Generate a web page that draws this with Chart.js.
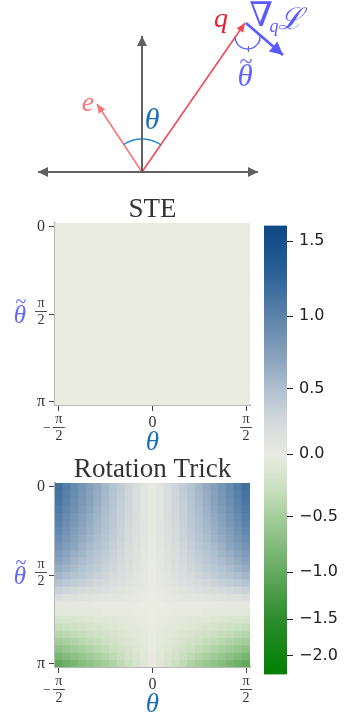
<!DOCTYPE html>
<html>
<head>
<meta charset="utf-8">
<script src="https://cdn.jsdelivr.net/npm/chart.js@4.4.0/dist/chart.umd.min.js"></script>
<style>
  html, body { margin: 0; padding: 0; background: #fff; }
  #wrap { position: relative; width: 345px; height: 714px; overflow: hidden; }
  canvas { position: absolute; }
</style>
</head>
<body>
<div id="wrap">
  <canvas id="diagram" width="345" height="190" style="left:0;top:0;width:345px;height:190px"></canvas>
  <canvas id="ste" width="262" height="268" style="left:0;top:190px;width:262px;height:268px"></canvas>
  <canvas id="rot" width="262" height="264" style="left:0;top:450px;width:262px;height:264px"></canvas>
  <canvas id="cbar" width="95" height="480" style="left:250px;top:210px;width:95px;height:480px"></canvas>
</div>
<script>
// heatmap axes (degrees)
const thetaCols = [-90, -82.5, -75, -67.5, -60, -52.5, -45, -37.5, -30, -22.5, -15, -7.5, 0,
  7.5, 15, 22.5, 30, 37.5, 45, 52.5, 60, 67.5, 75, 82.5, 90];
const thetaTildeRows = [0, 7.5, 15, 22.5, 30, 37.5, 45, 52.5, 60, 67.5, 75, 82.5, 90,
  97.5, 105, 112.5, 120, 127.5, 135, 142.5, 150, 157.5, 165, 172.5, 180];
const xTickDeg = [-90, 0, 90];
const xTickLabels = ['−π/2', '0', 'π/2'];
const yTickDeg = [0, 90, 180];
const yTickLabels = ['0', 'π/2', 'π'];

// colorbar ticks and the (non linear) norm
const cbTickValues = [1.5, 1.0, 0.5, 0.0, -0.5, -1.0, -1.5, -2.0];
const normValues = [1.6, 1.5, 1.0, 0.5, 0.0, -0.5, -1.0, -1.5, -2.0, -2.24];
const normFracs = [0, 0.035, 0.202, 0.364, 0.509, 0.649, 0.772, 0.877, 0.958, 1];

// STE: flat
const steGrid = [
  [0,0,0,0,0,0,0,0,0,0,0,0,0,0,0,0,0,0,0,0,0,0,0,0,0],
  [0,0,0,0,0,0,0,0,0,0,0,0,0,0,0,0,0,0,0,0,0,0,0,0,0],
  [0,0,0,0,0,0,0,0,0,0,0,0,0,0,0,0,0,0,0,0,0,0,0,0,0],
  [0,0,0,0,0,0,0,0,0,0,0,0,0,0,0,0,0,0,0,0,0,0,0,0,0],
  [0,0,0,0,0,0,0,0,0,0,0,0,0,0,0,0,0,0,0,0,0,0,0,0,0],
  [0,0,0,0,0,0,0,0,0,0,0,0,0,0,0,0,0,0,0,0,0,0,0,0,0],
  [0,0,0,0,0,0,0,0,0,0,0,0,0,0,0,0,0,0,0,0,0,0,0,0,0],
  [0,0,0,0,0,0,0,0,0,0,0,0,0,0,0,0,0,0,0,0,0,0,0,0,0],
  [0,0,0,0,0,0,0,0,0,0,0,0,0,0,0,0,0,0,0,0,0,0,0,0,0],
  [0,0,0,0,0,0,0,0,0,0,0,0,0,0,0,0,0,0,0,0,0,0,0,0,0],
  [0,0,0,0,0,0,0,0,0,0,0,0,0,0,0,0,0,0,0,0,0,0,0,0,0],
  [0,0,0,0,0,0,0,0,0,0,0,0,0,0,0,0,0,0,0,0,0,0,0,0,0],
  [0,0,0,0,0,0,0,0,0,0,0,0,0,0,0,0,0,0,0,0,0,0,0,0,0],
  [0,0,0,0,0,0,0,0,0,0,0,0,0,0,0,0,0,0,0,0,0,0,0,0,0],
  [0,0,0,0,0,0,0,0,0,0,0,0,0,0,0,0,0,0,0,0,0,0,0,0,0],
  [0,0,0,0,0,0,0,0,0,0,0,0,0,0,0,0,0,0,0,0,0,0,0,0,0],
  [0,0,0,0,0,0,0,0,0,0,0,0,0,0,0,0,0,0,0,0,0,0,0,0,0],
  [0,0,0,0,0,0,0,0,0,0,0,0,0,0,0,0,0,0,0,0,0,0,0,0,0],
  [0,0,0,0,0,0,0,0,0,0,0,0,0,0,0,0,0,0,0,0,0,0,0,0,0],
  [0,0,0,0,0,0,0,0,0,0,0,0,0,0,0,0,0,0,0,0,0,0,0,0,0],
  [0,0,0,0,0,0,0,0,0,0,0,0,0,0,0,0,0,0,0,0,0,0,0,0,0],
  [0,0,0,0,0,0,0,0,0,0,0,0,0,0,0,0,0,0,0,0,0,0,0,0,0],
  [0,0,0,0,0,0,0,0,0,0,0,0,0,0,0,0,0,0,0,0,0,0,0,0,0],
  [0,0,0,0,0,0,0,0,0,0,0,0,0,0,0,0,0,0,0,0,0,0,0,0,0],
  [0,0,0,0,0,0,0,0,0,0,0,0,0,0,0,0,0,0,0,0,0,0,0,0,0]
];

// Rotation trick: rows = theta tilde (0..pi), cols = theta (-pi/2..pi/2)
const rotGrid = [
  [1.15,1.04,.93,.84,.75,.66,.56,.47,.38,.29,.20,.10,.02,.10,.20,.29,.38,.47,.56,.66,.75,.84,.93,1.04,1.15],
  [1.13,1.02,.92,.82,.73,.64,.55,.46,.37,.28,.19,.10,.02,.10,.19,.28,.37,.46,.55,.64,.73,.82,.92,1.02,1.13],
  [1.10,.99,.89,.80,.72,.63,.54,.45,.36,.28,.19,.10,.02,.10,.19,.28,.36,.45,.54,.63,.72,.80,.89,.99,1.10],
  [1.07,.96,.87,.78,.70,.61,.52,.44,.35,.27,.18,.10,.02,.10,.18,.27,.35,.44,.52,.61,.70,.78,.87,.96,1.07],
  [1.03,.93,.83,.75,.67,.59,.50,.42,.34,.26,.18,.09,.02,.09,.18,.26,.34,.42,.50,.59,.67,.75,.83,.93,1.03],
  [.99,.89,.80,.72,.64,.56,.49,.41,.33,.25,.17,.09,.02,.09,.17,.25,.33,.41,.49,.56,.64,.72,.80,.89,.99],
  [.95,.86,.77,.69,.62,.54,.47,.39,.31,.24,.16,.09,.02,.09,.16,.24,.31,.39,.47,.54,.62,.69,.77,.86,.95],
  [.90,.81,.73,.66,.59,.51,.44,.37,.30,.23,.15,.08,.02,.08,.15,.23,.30,.37,.44,.51,.59,.66,.73,.81,.90],
  [.85,.77,.69,.62,.55,.48,.42,.35,.28,.21,.14,.08,.02,.08,.14,.21,.28,.35,.42,.48,.55,.62,.69,.77,.85],
  [.79,.71,.64,.58,.51,.45,.39,.32,.26,.20,.13,.07,.02,.07,.13,.20,.26,.32,.39,.45,.51,.58,.64,.71,.79],
  [.72,.65,.58,.53,.47,.41,.35,.30,.24,.18,.12,.06,.01,.06,.12,.18,.24,.30,.35,.41,.47,.53,.58,.65,.72],
  [.65,.59,.53,.47,.42,.37,.32,.27,.21,.16,.11,.06,.01,.06,.11,.16,.21,.27,.32,.37,.42,.47,.53,.59,.65],
  [.57,.51,.46,.42,.37,.32,.28,.23,.19,.14,.10,.05,.01,.05,.10,.14,.19,.23,.28,.32,.37,.42,.46,.51,.57],
  [.46,.41,.37,.34,.30,.26,.23,.19,.15,.12,.08,.04,.01,.04,.08,.12,.15,.19,.23,.26,.30,.34,.37,.41,.46],
  [.32,.29,.26,.23,.21,.18,.16,.13,.11,.08,.05,.03,.01,.03,.05,.08,.11,.13,.16,.18,.21,.23,.26,.29,.32],
  [.17,.15,.14,.12,.11,.10,.08,.07,.06,.04,.03,.02,0,.02,.03,.04,.06,.07,.08,.10,.11,.12,.14,.15,.17],
  [.04,.04,.03,.03,.03,.02,.02,.02,.01,.01,.01,0,0,0,.01,.01,.01,.02,.02,.02,.03,.03,.03,.04,.04],
  [-.07,-.06,-.06,-.05,-.05,-.04,-.03,-.03,-.02,-.02,-.01,-.01,0,-.01,-.01,-.02,-.02,-.03,-.03,-.04,-.05,-.05,-.06,-.06,-.07],
  [-.18,-.16,-.15,-.13,-.12,-.10,-.09,-.07,-.06,-.05,-.03,-.02,0,-.02,-.03,-.05,-.06,-.07,-.09,-.10,-.12,-.13,-.15,-.16,-.18],
  [-.29,-.26,-.23,-.21,-.19,-.17,-.14,-.12,-.10,-.07,-.05,-.03,-.01,-.03,-.05,-.07,-.10,-.12,-.14,-.17,-.19,-.21,-.23,-.26,-.29],
  [-.40,-.36,-.32,-.29,-.26,-.23,-.20,-.16,-.13,-.10,-.07,-.04,-.01,-.04,-.07,-.10,-.13,-.16,-.20,-.23,-.26,-.29,-.32,-.36,-.40],
  [-.52,-.47,-.42,-.38,-.34,-.30,-.25,-.21,-.17,-.13,-.09,-.05,-.01,-.05,-.09,-.13,-.17,-.21,-.25,-.30,-.34,-.38,-.42,-.47,-.52],
  [-.66,-.59,-.53,-.48,-.43,-.38,-.32,-.27,-.22,-.17,-.11,-.06,-.01,-.06,-.11,-.17,-.22,-.27,-.32,-.38,-.43,-.48,-.53,-.59,-.66],
  [-.83,-.75,-.67,-.61,-.54,-.47,-.41,-.34,-.27,-.21,-.14,-.07,-.02,-.07,-.14,-.21,-.27,-.34,-.41,-.47,-.54,-.61,-.67,-.75,-.83],
  [-1.02,-.92,-.83,-.74,-.66,-.58,-.50,-.42,-.34,-.26,-.17,-.09,-.02,-.09,-.17,-.26,-.34,-.42,-.50,-.58,-.66,-.74,-.83,-.92,-1.02]
];

// diagram vectors (origin at 0,0)
const hAxisEnds = [-1.04, 1.16];
const vAxisTop = 1.36;
const vecE = [-0.45, 0.68];
const vecQ = [1.03, 1.49];
const gradStart = [1.04, 1.49];
const gradEnd = [1.41, 1.17];
const thetaArcR = 0.33;
const tildeArc = { cx: 1.055, cy: 1.355, r: 0.125 };

// colour map: blue -> cream -> green, by position on the colorbar
const cmapStops = [
  [0, [12, 72, 132]], [0.1, [40, 95, 150]], [0.2, [90, 130, 170]], [0.3, [140, 165, 190]],
  [0.364, [175, 192, 208]], [0.44, [212, 218, 220]], [0.509, [234, 235, 225]],
  [0.58, [205, 225, 195]], [0.649, [165, 205, 155]], [0.772, [100, 170, 95]],
  [0.877, [45, 140, 45]], [1, [0, 128, 0]]
];

function valueToFrac(v) {
  if (v >= normValues[0]) return 0;
  for (let i = 1; i < normValues.length; i++) {
    if (v >= normValues[i]) {
      const t = (normValues[i - 1] - v) / (normValues[i - 1] - normValues[i]);
      return normFracs[i - 1] + t * (normFracs[i] - normFracs[i - 1]);
    }
  }
  return 1;
}

function fracToColor(f) {
  for (let i = 1; i < cmapStops.length; i++) {
    if (f <= cmapStops[i][0]) {
      const [f0, c0] = cmapStops[i - 1];
      const [f1, c1] = cmapStops[i];
      const t = (f - f0) / (f1 - f0);
      const c = c0.map((a, k) => Math.round(a + t * (c1[k] - a)));
      return `rgb(${c[0]},${c[1]},${c[2]})`;
    }
  }
  return 'rgb(0,128,0)';
}

function cmap(v) {
  return fracToColor(valueToFrac(v));
}

// fractions like π/2 drawn as stacked text
function drawMath(ctx, label, cx, cy) {
  if (label.indexOf('/') < 0) {
    ctx.font = '16px "Liberation Serif"';
    ctx.fillText(label, cx, cy);
    return;
  }
  const neg = label[0] === '−';
  const parts = label.replace('−', '').split('/');
  ctx.font = '14px "Liberation Serif"';
  ctx.fillText(parts[0], cx, cy - 8);
  ctx.fillText(parts[1], cx, cy + 9);
  ctx.beginPath();
  ctx.moveTo(cx - 6, cy + 0.5);
  ctx.lineTo(cx + 6, cy + 0.5);
  ctx.lineWidth = 0.9;
  ctx.stroke();
  if (neg) ctx.fillText('−', cx - 12, cy + 1);
}

const mathTicks = {
  id: 'mathTicks',
  afterDraw(chart, args, opts) {
    if (!opts.enabled) return;
    const { ctx, chartArea, scales } = chart;
    ctx.save();
    ctx.fillStyle = '#333';
    ctx.strokeStyle = '#333';
    ctx.textAlign = 'center';
    ctx.textBaseline = 'middle';
    xTickDeg.forEach((d, i) => {
      const px = scales.x.getPixelForValue(thetaCols.indexOf(d));
      const lab = xTickLabels[i];
      drawMath(ctx, lab, px, chartArea.bottom + (lab.indexOf('/') < 0 ? 18 : 22));
    });
    yTickDeg.forEach((d, i) => {
      const py = scales.y.getPixelForValue(thetaTildeRows.indexOf(d) + 0.5);
      const lab = yTickLabels[i];
      drawMath(ctx, lab, chartArea.left - 14, py + (lab.indexOf('/') < 0 ? 0 : -3));
    });
    // axis titles
    const midY = scales.y.getPixelForValue(thetaTildeRows.indexOf(90) + 0.5);
    ctx.fillStyle = '#6464ff';
    ctx.font = 'italic 25px "Liberation Serif"';
    ctx.fillText('θ', 20, midY + 2);
    ctx.font = '20px "Liberation Serif"';
    ctx.fillText('~', 21, midY - 11);
    ctx.fillStyle = '#1a70b4';
    ctx.font = 'italic 27px "Liberation Serif"';
    ctx.fillText('θ', scales.x.getPixelForValue(thetaCols.indexOf(0)), chartArea.bottom + 38);
    ctx.restore();
  }
};

function makeHeatmap(id, titleText, grid, axisH) {
  return new Chart(document.getElementById(id), {
    type: 'bar',
    data: {
      labels: thetaCols.map(String),
      datasets: grid.map((row, r) => ({
        label: 'θ̃ ' + thetaTildeRows[r],
        data: row.map((v, c) => ({ x: String(thetaCols[c]), y: 1, v: v })),
        backgroundColor: ctx => cmap(ctx.raw ? ctx.raw.v : 0),
        borderWidth: 0,
        inflateAmount: 0.5,
        barPercentage: 1,
        categoryPercentage: 1
      }))
    },
    plugins: [mathTicks],
    options: {
      responsive: false,
      animation: false,
      devicePixelRatio: 1,
      layout: { padding: { left: 0, right: 12, top: 0, bottom: 0 } },
      plugins: {
        legend: { display: false },
        tooltip: { enabled: false },
        title: {
          display: true,
          text: titleText,
          fullSize: false,
          color: '#333',
          font: { family: 'Liberation Serif', size: 27, weight: 'normal', lineHeight: 1 },
          padding: { top: 6, bottom: 0 }
        },
        mathTicks: { enabled: true }
      },
      scales: {
        x: {
          stacked: true,
          ticks: { display: false, autoSkip: false },
          grid: {
            offset: false,
            drawOnChartArea: false,
            tickLength: 6,
            color: 'rgba(0,0,0,0)',
            tickColor: c => xTickDeg.includes(thetaCols[c.index]) ? '#444' : 'rgba(0,0,0,0)'
          },
          border: { display: true, color: '#b8b8b8', width: 2, dash: [1, 5] },
          afterFit: s => { s.height = axisH; }
        },
        y: {
          stacked: true,
          reverse: true,
          min: 0,
          max: thetaTildeRows.length,
          afterBuildTicks: s => { s.ticks = thetaTildeRows.map((d, i) => ({ value: i + 0.5 })); },
          ticks: { display: false },
          grid: {
            drawOnChartArea: false,
            tickLength: 6,
            color: 'rgba(0,0,0,0)',
            tickColor: c => yTickDeg.includes(thetaTildeRows[c.index]) ? '#444' : 'rgba(0,0,0,0)'
          },
          border: { display: true, color: '#b8b8b8', width: 2, dash: [1, 5] },
          afterFit: s => { s.width = 55; }
        }
      }
    }
  });
}

makeHeatmap('ste', 'STE', steGrid, 53);
makeHeatmap('rot', 'Rotation Trick', rotGrid, 47);

// colorbar
new Chart(document.getElementById('cbar'), {
  type: 'bar',
  data: {
    labels: [''],
    datasets: [{
      data: [[0, 1]],
      backgroundColor: c => {
        const a = c.chart.chartArea;
        if (!a) return '#ccc';
        const g = c.chart.ctx.createLinearGradient(0, a.top, 0, a.bottom);
        cmapStops.forEach(([f, col]) => g.addColorStop(f, `rgb(${col[0]},${col[1]},${col[2]})`));
        return g;
      },
      borderWidth: 0,
      barPercentage: 1,
      categoryPercentage: 1
    }]
  },
  options: {
    responsive: false,
    animation: false,
    devicePixelRatio: 1,
    layout: { padding: { left: 14, top: 12, bottom: 13, right: 0 } },
    plugins: { legend: { display: false }, tooltip: { enabled: false } },
    scales: {
      x: { display: false },
      y: {
        position: 'right',
        reverse: true,
        min: 0,
        max: 1,
        afterBuildTicks: s => { s.ticks = cbTickValues.map(v => ({ value: valueToFrac(v) })); },
        ticks: {
          autoSkip: false,
          padding: 6,
          color: '#222',
          font: { family: 'DejaVu Sans', size: 16 },
          callback: (val, i) => cbTickValues[i].toFixed(1).replace('-', '−')
        },
        grid: { drawOnChartArea: false, tickLength: 6, color: '#222', tickColor: '#222' },
        border: { display: false },
        afterFit: s => { s.width = 58; }
      }
    }
  }
});

// diagram
function arcPoints(cx, cy, r, a0, a1, n) {
  const pts = [];
  for (let i = 0; i <= n; i++) {
    const a = a0 + (a1 - a0) * i / n;
    pts.push({ x: cx + r * Math.cos(a), y: cy + r * Math.sin(a) });
  }
  return pts;
}

const angQ = Math.atan2(vecQ[1], vecQ[0]);
const angE = Math.atan2(vecE[1], vecE[0]);

const arrowHeads = {
  id: 'arrowHeads',
  afterDatasetsDraw(chart) {
    const ctx = chart.ctx;
    chart.data.datasets.forEach((ds, i) => {
      if (!ds.arrow) return;
      const pts = chart.getDatasetMeta(i).data;
      const ends = [];
      if (ds.arrow.end) ends.push([pts[pts.length - 1], pts[pts.length - 2]]);
      if (ds.arrow.start) ends.push([pts[0], pts[1]]);
      ends.forEach(([tip, prev]) => {
        const ang = Math.atan2(tip.y - prev.y, tip.x - prev.x);
        const L = ds.arrow.len, H = ds.arrow.half;
        const bx = tip.x - L * Math.cos(ang), by = tip.y - L * Math.sin(ang);
        ctx.save();
        ctx.fillStyle = ds.borderColor;
        ctx.beginPath();
        ctx.moveTo(tip.x, tip.y);
        ctx.lineTo(bx + H * Math.sin(ang), by - H * Math.cos(ang));
        ctx.lineTo(bx - H * Math.sin(ang), by + H * Math.cos(ang));
        ctx.closePath();
        ctx.fill();
        ctx.restore();
      });
    });
  }
};

const diagramText = {
  id: 'diagramText',
  afterDraw(chart, args, opts) {
    const { ctx, scales } = chart;
    ctx.save();
    ctx.textAlign = 'center';
    ctx.textBaseline = 'middle';
    opts.items.forEach(t => {
      ctx.fillStyle = t.color;
      ctx.font = t.font;
      ctx.fillText(t.text, scales.x.getPixelForValue(t.x), scales.y.getPixelForValue(t.y));
    });
    ctx.restore();
  }
};

new Chart(document.getElementById('diagram'), {
  type: 'scatter',
  data: {
    datasets: [
      { data: [{ x: hAxisEnds[0], y: 0 }, { x: hAxisEnds[1], y: 0 }], borderColor: '#606060', borderWidth: 2,
        arrow: { start: true, end: true, len: 10, half: 5 } },
      { data: [{ x: 0, y: 0 }, { x: 0, y: vAxisTop }], borderColor: '#606060', borderWidth: 2,
        arrow: { end: true, len: 10, half: 5 } },
      { data: arcPoints(0, 0, thetaArcR, angQ, angE, 30), borderColor: '#2f8ad0', borderWidth: 1.5 },
      { data: [{ x: 0, y: 0 }, { x: vecE[0], y: vecE[1] }], borderColor: '#f87676', borderWidth: 1.6,
        arrow: { end: true, len: 9, half: 4 } },
      { data: [{ x: 0, y: 0 }, { x: vecQ[0], y: vecQ[1] }], borderColor: '#f04a55', borderWidth: 1.6,
        arrow: { end: true, len: 9, half: 4 } },
      { data: arcPoints(tildeArc.cx, tildeArc.cy, tildeArc.r, Math.PI, 2 * Math.PI, 30), borderColor: '#5a5aff', borderWidth: 1.3 },
      { data: [{ x: tildeArc.cx + 0.01, y: tildeArc.cy - tildeArc.r + 0.03 }, { x: tildeArc.cx + 0.01, y: tildeArc.cy - tildeArc.r - 0.03 }],
        borderColor: '#5a5aff', borderWidth: 1 },
      { data: [{ x: gradStart[0], y: gradStart[1] }, { x: gradEnd[0], y: gradEnd[1] }], borderColor: '#5a5aff', borderWidth: 2.6,
        arrow: { end: true, len: 13, half: 6.5 } }
    ]
  },
  plugins: [arrowHeads, diagramText],
  options: {
    responsive: false,
    animation: false,
    devicePixelRatio: 1,
    showLine: true,
    layout: { padding: 0 },
    elements: { point: { radius: 0 }, line: { tension: 0, borderCapStyle: 'butt' } },
    plugins: {
      legend: { display: false },
      tooltip: { enabled: false },
      diagramText: {
        items: [
          { text: 'e', x: -0.54, y: 0.68, color: '#f87676', font: 'italic 28px "Liberation Serif"' },
          { text: 'q', x: 0.79, y: 1.52, color: '#e8202f', font: 'italic 28px "Liberation Serif"' },
          { text: 'θ', x: 0.10, y: 0.51, color: '#1a70b4', font: 'italic 30px "Liberation Serif"' },
          { text: 'θ', x: 1.03, y: 0.94, color: '#6464ff', font: 'italic 31px "Liberation Serif"' },
          { text: '~', x: 1.04, y: 1.09, color: '#6464ff', font: '24px "Liberation Serif"' },
          { text: '∇', x: 1.19, y: 1.55, color: '#5a5aff', font: '34px "DejaVu Serif"' },
          { text: 'q', x: 1.32, y: 1.45, color: '#5a5aff', font: 'italic 18px "Liberation Serif"' },
          { text: 'ℒ', x: 1.48, y: 1.51, color: '#5a5aff', font: 'italic 30px "DejaVu Serif"' }
        ]
      }
    },
    scales: {
      x: { type: 'linear', display: false, min: -1.42, max: 2.03 },
      y: { type: 'linear', display: false, min: -0.18, max: 1.72 }
    }
  }
});
</script>
</body>
</html>
